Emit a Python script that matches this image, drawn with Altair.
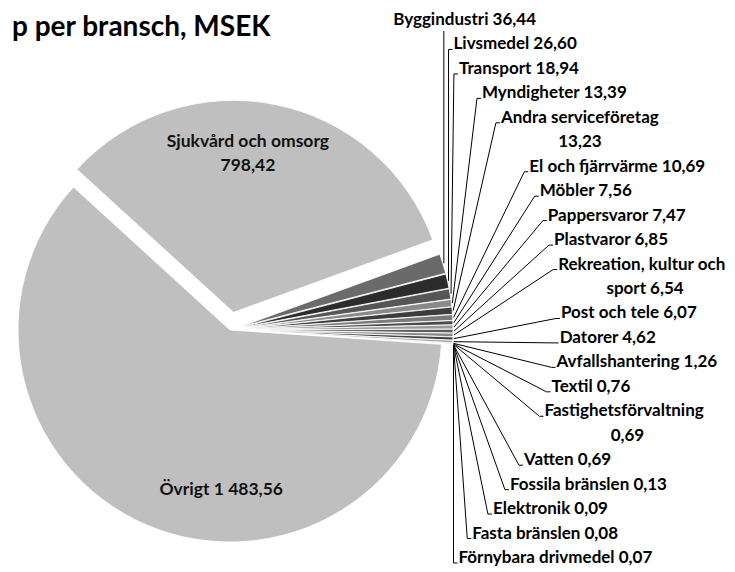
import math
import altair as alt
import pandas as pd

# ---------------- data ----------------
title_text = "p per bransch, MSEK"
small_names = [
    "Byggindustri", "Livsmedel", "Transport", "Myndigheter", "Andra serviceföretag",
    "El och fjärrvärme", "Möbler", "Pappersvaror", "Plastvaror",
    "Rekreation, kultur och sport", "Post och tele", "Datorer", "Avfallshantering",
    "Textil", "Fastighetsförvaltning", "Vatten", "Fossila bränslen", "Elektronik",
    "Fasta bränslen", "Förnybara drivmedel",
]
small_values = [36.44, 26.60, 18.94, 13.39, 13.23, 10.69, 7.56, 7.47, 6.85, 6.54,
                6.07, 4.62, 1.26, 0.76, 0.69, 0.69, 0.13, 0.09, 0.08, 0.07]
big_names = ["Övrigt", "Sjukvård och omsorg"]
big_values = [1483.56, 798.42]

# ---------------- style / layout ----------------
small_grays = ["#6a6a6a", "#2c2c2c", "#565656", "#8a8a8a", "#3c3c3c", "#7a7a7a",
               "#4a4a4a", "#9a9a9a", "#5e5e5e", "#888888", "#444444", "#a4a4a4",
               "#666666", "#909090", "#505050", "#9c9c9c", "#707070", "#858585",
               "#5a5a5a", "#969696"]
big_gray = "#bfbfbf"
W, H = 719, 560
CX, CY = 222, 322          # pie centre (chart pixels)
R = 212                    # pie radius
START_DEG = 70             # angle of first slice (clockwise from 12 o'clock)
EXPLODE_SMALL = 11
EXPLODE = {"Övrigt": 0, "Sjukvård och omsorg": 18}
LABEL_CX, LABEL_CY, LABEL_R = 222, 300, 331   # circle the outside labels follow
LABEL_TOP, LABEL_BOTTOM = 12, 550
WRAP = 24
CHAR_W = 7.9
FONT = "Lato"
FS = 17
FS_IN = 17.5
INNER_LABEL = {"Övrigt": (160, -20), "Sjukvård och omsorg": (159, -6)}


def fmt(v):
    return f"{v:,.2f}".replace(",", " ").replace(".", ",")


def wrap(text, width=WRAP):
    words = text.split(" ")
    lines = [words[0]]
    for w in words[1:]:
        if len(lines[-1]) + 1 + len(w) <= width:
            lines[-1] += " " + w
        else:
            lines.append(w)
    return lines


names = small_names + big_names
values = small_values + big_values
colors = small_grays + [big_gray, big_gray]
total = sum(values)

rows = []
cum = 0.0
for n, v in zip(names, values):
    t0, t1 = cum, cum + v
    cum = t1
    mid = math.radians(START_DEG + (t0 + t1) / 2 / total * 360)
    e = EXPLODE.get(n, EXPLODE_SMALL)
    rows.append(dict(name=n, value=v, t0=t0, t1=t1, mid=mid,
                     ax=CX + e * math.sin(mid), ay=CY - e * math.cos(mid)))
slices = pd.DataFrame(rows)

# outside labels + leader lines for the small slices
label_lines = [wrap(f"{n} {fmt(v)}") for n, v in zip(small_names, small_values)]
total_lines = sum(len(l) for l in label_lines)
LH = (LABEL_BOTTOM - LABEL_TOP) / (total_lines - 1)

text_left, text_center, text_inner, leaders = [], [], [], []
idx = 0
for i, n in enumerate(small_names):
    s = rows[i]
    tipx = s["ax"] + (R + 1) * math.sin(s["mid"])
    tipy = s["ay"] - (R + 1) * math.cos(s["mid"])
    yc = LABEL_TOP + idx * LH
    dy = yc - LABEL_CY
    xl = LABEL_CX + math.sqrt(max(LABEL_R ** 2 - dy ** 2, 0))
    if xl >= tipx - 50:
        xl = max(xl, tipx + 5)
    lines = label_lines[i]
    for j, line in enumerate(lines):
        if j == 0:
            text_left.append(dict(t=line, x=xl, y=yc))
        else:
            text_center.append(dict(t=line, x=xl + len(lines[0]) * CHAR_W / 2, y=yc + j * LH))
    if xl < tipx:
        pts = [(tipx, tipy), (tipx, yc + 11)]
    else:
        pts = [(tipx, tipy), (xl - 5, yc + 5), (xl - 1, yc + 5)]
    for k, (px, py) in enumerate(pts):
        leaders.append(dict(name=n, k=k, x=px, y=py))
    idx += len(lines)

# labels inside the two big slices
for n, v in zip(big_names, big_values):
    s = rows[names.index(n)]
    r, nudge = INNER_LABEL[n]
    a = s["mid"] + math.radians(nudge)
    lines = wrap(f"{n} {fmt(v)}")
    x0 = s["ax"] + r * math.sin(a)
    y0 = s["ay"] - r * math.cos(a)
    for j, line in enumerate(lines):
        text_inner.append(dict(t=line, x=x0, y=y0 + (j - (len(lines) - 1) / 2) * 24))

xs = alt.Scale(domain=[0, W], range=[0, W])
ys = alt.Scale(domain=[0, H], range=[0, H])
X = lambda f: alt.X(f, scale=xs, axis=None)
Y = lambda f: alt.Y(f, scale=ys, axis=None)

arcs = alt.Chart(slices).mark_arc(radius=R, stroke="white", strokeWidth=0.8).encode(
    x=X("ax:Q"),
    y=Y("ay:Q"),
    theta=alt.Theta("t0:Q", stack=None,
                    scale=alt.Scale(domain=[0, total],
                                    range=[math.radians(START_DEG), math.radians(START_DEG) + 2 * math.pi])),
    theta2="t1:Q",
    color=alt.Color("name:N", scale=alt.Scale(domain=names, range=colors), legend=None),
)

lead = alt.Chart(pd.DataFrame(leaders)).mark_line(color="black", strokeWidth=1).encode(
    x=X("x:Q"), y=Y("y:Q"), detail="name:N", order="k:Q",
)

tl = alt.Chart(pd.DataFrame(text_left)).mark_text(
    align="left", baseline="middle", font=FONT, fontSize=FS, fontWeight="bold", color="black"
).encode(x=X("x:Q"), y=Y("y:Q"), text="t:N")

tc = alt.Chart(pd.DataFrame(text_center)).mark_text(
    align="center", baseline="middle", font=FONT, fontSize=FS, fontWeight="bold", color="black"
).encode(x=X("x:Q"), y=Y("y:Q"), text="t:N")

ti = alt.Chart(pd.DataFrame(text_inner)).mark_text(
    align="center", baseline="middle", font=FONT, fontSize=FS_IN, fontWeight="bold", color="#111111"
).encode(x=X("x:Q"), y=Y("y:Q"), text="t:N")

title = alt.Chart(pd.DataFrame({"t": [title_text]})).mark_text(
    align="left", baseline="alphabetic", font=FONT, fontSize=28, fontWeight="bold", color="black"
).encode(text="t:N", x=alt.value(4), y=alt.value(28))

chart = alt.layer(arcs, lead, tl, tc, ti, title).properties(
    width=W, height=H, padding=0, autosize="none"
).configure_view(stroke=None)

chart.save("out.html", embed_options={"renderer": "svg", "actions": False})
